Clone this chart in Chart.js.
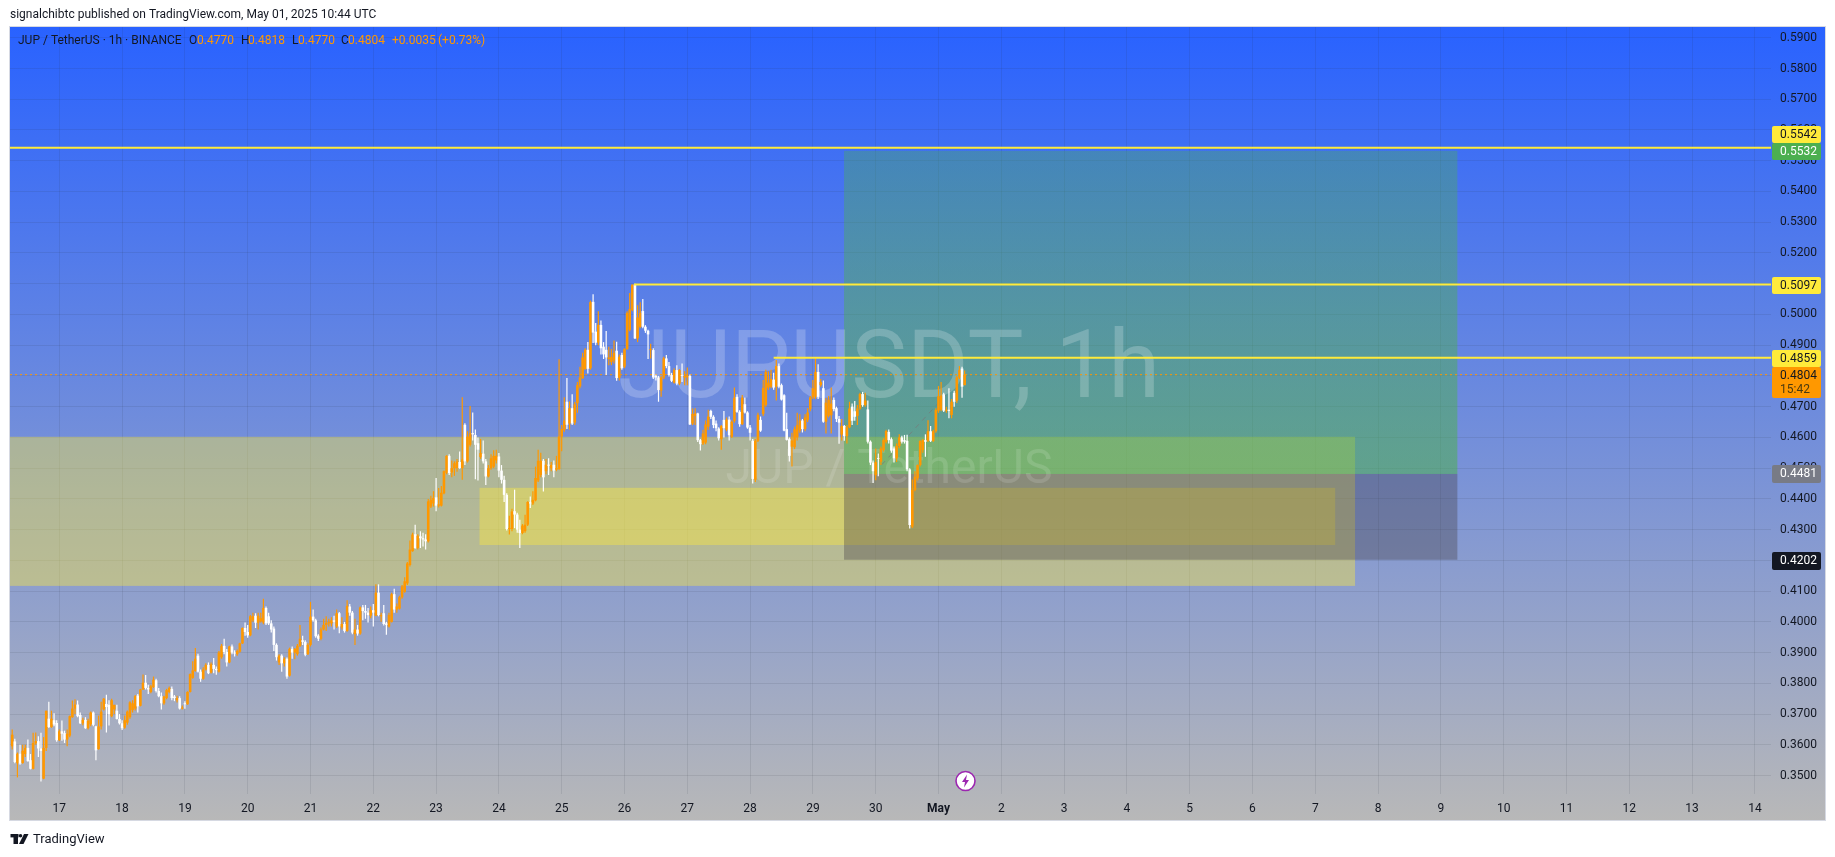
<!DOCTYPE html>
<html>
<head>
<meta charset="utf-8">
<title>JUPUSDT 1h</title>
<script src="https://cdn.jsdelivr.net/npm/chart.js@4"></script>
<style>
  html, body { margin: 0; padding: 0; background: #fff; }
  canvas { display: block; }
</style>
</head>
<body>
<canvas id="chart" width="1835" height="857"></canvas>
<script>
// hourly candles, first one is Apr 16 06:00 (hour -18 from Apr 17 00:00)
const firstHour = -18;

const opens = [
  .3595,.3611,.3540,.3571,.3541,.3570,.3590,.3550,.3522,.3605,.3612,.3588,.3490,.3590,.3685,.3658,.3680,.3671,
  .3615,.3644,.3638,.3617,.3630,.3690,.3718,.3731,.3697,.3670,.3681,.3654,.3667,.3705,.3660,.3586,.3660,.3715,.3733,.3730,.3693,.3715,.3711,.3684,
  .3670,.3656,.3672,.3690,.3713,.3718,.3760,.3727,.3780,.3802,.3785,.3772,.3788,.3810,.3775,.3758,.3735,.3752,.3772,.3782,.3757,.3745,.3752,.3718,
  .3734,.3732,.3772,.3818,.3840,.3890,.3838,.3815,.3845,.3860,.3835,.3860,.3847,.3838,.3885,.3922,.3902,.3868,.3920,.3900,.3895,.3903,.3930,.3980,
  .3967,.3956,.4005,.4020,.3997,.4002,.3998,.4045,.4018,.3995,.3978,.3925,.3868,.3890,.3865,.3880,.3825,.3912,.3900,.3895,.3922,.3940,.3935,.3895,
  .3925,.4017,.4005,.3955,.3945,.3975,.3990,.3995,.3995,.4005,.3985,.4028,.3982,.3993,.3970,.4050,.4030,.3960,.3975,.3962,.4047,.4035,.4030,.4020,
  .4038,.4020,.4095,.4018,.4028,.3995,.3985,.4000,.4090,.4040,.4043,.4080,.4098,.4125,.4185,.4230,.4285,.4240,.4278,.4272,.4268,.4262,.4375,.4385,
  .4405,.4378,.4378,.4418,.4485,.4540,.4486,.4500,.4500,.4520,.4500,.4641,.4522,.4576,.4614,.4608,.4581,.4536,.4547,.4522,.4473,.4500,.4505,.4525,
  .4538,.4492,.4462,.4413,.4302,.4302,.4360,.4349,.4300,.4289,.4295,.4316,.4389,.4385,.4395,.4460,.4478,.4524,.4490,.4511,.4500,.4511,.4495,.4497,
  .4603,.4625,.4716,.4645,.4695,.4648,.4711,.4766,.4793,.4822,.4885,.4825,.5041,.4944,.4908,.4966,.4895,.4885,.4855,.4845,.4850,.4882,.4794,.4868,
  .4830,.4887,.4950,.5015,.5097,.4922,.4960,.5011,.4960,.4947,.4884,.4884,.4800,.4795,.4752,.4795,.4857,.4832,.4803,.4778,.4819,.4775,.4803,.4795,
  .4795,.4800,.4645,.4670,.4678,.4591,.4580,.4583,.4635,.4686,.4667,.4645,.4629,.4594,.4657,.4625,.4658,.4602,.4653,.4732,.4683,.4643,.4708,.4681,
  .4632,.4589,.4462,.4589,.4657,.4676,.4705,.4762,.4765,.4788,.4765,.4832,.4770,.4737,.4627,.4594,.4570,.4568,.4600,.4622,.4655,.4627,.4657,.4692,
  .4730,.4732,.4813,.4770,.4760,.4651,.4670,.4672,.4722,.4695,.4660,.4609,.4637,.4604,.4633,.4700,.4685,.4670,.4694,.4741,.4705,.4691,.4586,.4518,
  .4477,.4532,.4521,.4559,.4586,.4618,.4594,.4564,.4532,.4572,.4600,.4591,.4589,.4496,.4310,.4429,.4467,.4510,.4559,.4591,.4589,.4620,.4589,.4620,
  .4687,.4690,.4740,.4687,.4690,.4673,.4745,.4719,.4795,.4824,.4770
];
const highs = [
  .3650,.3620,.3575,.3600,.3600,.3600,.3617,.3570,.3639,.3640,.3628,.3639,.3625,.3711,.3740,.3711,.3703,.3680,
  .3650,.3679,.3646,.3650,.3695,.3744,.3748,.3744,.3705,.3688,.3690,.3685,.3708,.3708,.3662,.3695,.3740,.3752,.3763,.3745,.3750,.3730,.3730,.3700,
  .3680,.3695,.3712,.3742,.3745,.3762,.3765,.3782,.3829,.3827,.3795,.3795,.3822,.3815,.3785,.3770,.3760,.3782,.3790,.3790,.3762,.3760,.3758,.3728,
  .3742,.3774,.3832,.3872,.3915,.3896,.3845,.3852,.3865,.3868,.3868,.3882,.3855,.3905,.3928,.3945,.3912,.3922,.3926,.3908,.3910,.3932,.3982,.3998,
  .3990,.4022,.4030,.4028,.4030,.4030,.4075,.4050,.4030,.4005,.3985,.3930,.3895,.3895,.3885,.3884,.3916,.3920,.3915,.3928,.3990,.3955,.3940,.3930,
  .4065,.4040,.4010,.3960,.3982,.4010,.4018,.4010,.4015,.4020,.4040,.4032,.4015,.4000,.4070,.4058,.4035,.4010,.3990,.4050,.4055,.4055,.4045,.4050,
  .4058,.4122,.4122,.4030,.4055,.4000,.4030,.4095,.4108,.4060,.4085,.4120,.4145,.4195,.4265,.4290,.4316,.4285,.4295,.4290,.4285,.4400,.4410,.4425,
  .4468,.4435,.4442,.4492,.4542,.4545,.4525,.4522,.4530,.4554,.4731,.4646,.4620,.4702,.4681,.4626,.4600,.4595,.4590,.4530,.4510,.4545,.4558,.4560,
  .4549,.4510,.4475,.4418,.4345,.4368,.4430,.4355,.4332,.4318,.4348,.4392,.4408,.4425,.4505,.4560,.4550,.4530,.4530,.4532,.4520,.4525,.4540,.4854,
  .4640,.4731,.4793,.4717,.4740,.4715,.4780,.4830,.4875,.4890,.4910,.5045,.5066,.4972,.5010,.4980,.4910,.4946,.4895,.4888,.4915,.4911,.4870,.4875,
  .4890,.5010,.5070,.5097,.5100,.5030,.5040,.5050,.4965,.4950,.4905,.4890,.4805,.4800,.4800,.4862,.4868,.4845,.4810,.4825,.4835,.4822,.4840,.4815,
  .4827,.4805,.4694,.4695,.4680,.4595,.4625,.4655,.4690,.4690,.4672,.4655,.4633,.4640,.4686,.4665,.4668,.4655,.4762,.4740,.4688,.4738,.4730,.4685,
  .4640,.4595,.4595,.4680,.4668,.4787,.4820,.4815,.4820,.4810,.4852,.4840,.4775,.4740,.4680,.4600,.4615,.4635,.4680,.4675,.4660,.4675,.4695,.4735,
  .4787,.4857,.4838,.4790,.4785,.4728,.4735,.4762,.4730,.4700,.4670,.4660,.4640,.4640,.4716,.4710,.4718,.4705,.4745,.4748,.4745,.4720,.4590,.4525,
  .4564,.4548,.4570,.4597,.4625,.4626,.4600,.4570,.4580,.4610,.4605,.4608,.4609,.4500,.4463,.4490,.4512,.4590,.4595,.4610,.4656,.4637,.4625,.4695,
  .4767,.4780,.4745,.4700,.4760,.4725,.4752,.4800,.4832,.4830,.4818
];
const lows = [
  .3585,.3540,.3494,.3535,.3538,.3560,.3545,.3520,.3520,.3600,.3560,.3481,.3488,.3580,.3655,.3655,.3660,.3610,
  .3612,.3613,.3606,.3595,.3625,.3688,.3700,.3690,.3668,.3664,.3652,.3650,.3660,.3660,.3550,.3584,.3650,.3712,.3640,.3663,.3690,.3700,.3682,.3666,
  .3648,.3652,.3665,.3685,.3705,.3712,.3705,.3725,.3778,.3780,.3765,.3768,.3785,.3770,.3755,.3715,.3730,.3748,.3768,.3745,.3742,.3738,.3715,.3715,
  .3717,.3730,.3770,.3815,.3838,.3835,.3805,.3812,.3842,.3830,.3832,.3833,.3828,.3835,.3880,.3895,.3855,.3865,.3895,.3887,.3890,.3900,.3928,.3955,
  .3948,.3953,.4000,.3980,.3975,.3998,.3992,.3990,.3990,.3965,.3905,.3874,.3860,.3838,.3855,.3815,.3822,.3880,.3878,.3890,.3918,.3925,.3888,.3892,
  .3920,.4000,.3948,.3938,.3940,.3972,.3970,.3985,.3985,.3975,.3980,.3963,.3975,.3965,.3968,.4020,.3960,.3925,.3955,.3958,.4005,.4010,.3998,.4012,
  .3985,.4018,.4018,.4000,.3988,.3958,.3982,.3998,.4030,.4030,.4040,.4075,.4095,.4120,.4180,.4228,.4238,.4235,.4240,.4245,.4235,.4258,.4370,.4375,
  .4360,.4372,.4375,.4415,.4480,.4478,.4470,.4475,.4488,.4498,.4462,.4510,.4518,.4570,.4590,.4464,.4460,.4530,.4515,.4445,.4470,.4495,.4500,.4515,
  .4470,.4450,.4390,.4297,.4284,.4295,.4305,.4290,.4240,.4285,.4290,.4312,.4370,.4380,.4392,.4455,.4470,.4424,.4480,.4478,.4490,.4470,.4490,.4495,
  .4555,.4618,.4627,.4625,.4640,.4640,.4680,.4760,.4790,.4820,.4808,.4820,.4907,.4900,.4900,.4870,.4855,.4803,.4835,.4835,.4840,.4784,.4785,.4820,
  .4825,.4885,.4945,.5010,.4920,.4910,.4955,.4955,.4940,.4855,.4857,.4790,.4785,.4716,.4732,.4790,.4825,.4798,.4780,.4775,.4770,.4770,.4780,.4770,
  .4770,.4640,.4640,.4640,.4585,.4557,.4575,.4578,.4625,.4660,.4630,.4620,.4590,.4560,.4600,.4620,.4590,.4598,.4648,.4680,.4635,.4640,.4678,.4628,
  .4590,.4450,.4455,.4585,.4618,.4670,.4700,.4755,.4760,.4755,.4720,.4760,.4720,.4620,.4590,.4522,.4505,.4562,.4590,.4615,.4616,.4620,.4650,.4685,
  .4725,.4725,.4725,.4765,.4648,.4613,.4665,.4613,.4685,.4650,.4579,.4590,.4589,.4580,.4630,.4640,.4654,.4640,.4690,.4700,.4700,.4580,.4510,.4452,
  .4461,.4474,.4510,.4554,.4580,.4580,.4550,.4518,.4520,.4565,.4580,.4580,.4490,.4304,.4305,.4425,.4460,.4505,.4550,.4537,.4585,.4585,.4585,.4615,
  .4680,.4685,.4683,.4680,.4662,.4662,.4700,.4712,.4790,.4729,.4770
];
const closes = [
  .3633,.3544,.3571,.3539,.3581,.3590,.3547,.3522,.3606,.3612,.3588,.3580,.3590,.3711,.3658,.3685,.3666,.3615,
  .3644,.3636,.3617,.3636,.3693,.3718,.3731,.3693,.3670,.3681,.3654,.3678,.3705,.3665,.3582,.3660,.3708,.3750,.3723,.3700,.3745,.3730,.3684,.3670,
  .3654,.3680,.3708,.3738,.3735,.3758,.3725,.3780,.3802,.3785,.3780,.3790,.3812,.3775,.3758,.3735,.3757,.3778,.3785,.3752,.3752,.3752,.3718,.3720,
  .3732,.3772,.3830,.3842,.3880,.3838,.3815,.3845,.3860,.3833,.3862,.3847,.3843,.3900,.3922,.3902,.3868,.3920,.3900,.3897,.3905,.3930,.3980,.3967,
  .3956,.4018,.4018,.3997,.4020,.4012,.4045,.3995,.3995,.3975,.3925,.3885,.3890,.3865,.3880,.3822,.3912,.3900,.3912,.3922,.3945,.3935,.3893,.3925,
  .4017,.4005,.3953,.3945,.3975,.3990,.3997,.3999,.4005,.4000,.4028,.3985,.3993,.3970,.4052,.4030,.3965,.3975,.3962,.4047,.4035,.4030,.4022,.4038,
  .4030,.4095,.4022,.4022,.3993,.3990,.4022,.4090,.4040,.4050,.4080,.4115,.4132,.4190,.4235,.4284,.4240,.4280,.4272,.4268,.4262,.4392,.4397,.4403,
  .4378,.4382,.4420,.4490,.4540,.4484,.4500,.4516,.4522,.4500,.4528,.4522,.4603,.4613,.4610,.4576,.4560,.4549,.4522,.4473,.4500,.4532,.4540,.4540,
  .4492,.4462,.4413,.4302,.4305,.4359,.4349,.4300,.4289,.4313,.4316,.4390,.4385,.4397,.4468,.4524,.4524,.4470,.4511,.4508,.4510,.4492,.4500,.4603,
  .4627,.4655,.4641,.4695,.4645,.4708,.4770,.4795,.4860,.4885,.4823,.5040,.4941,.4908,.4966,.4890,.4870,.4860,.4860,.4862,.4875,.4793,.4862,.4825,
  .4887,.5005,.5017,.5097,.4922,.4990,.5005,.4960,.4947,.4935,.4886,.4795,.4795,.4754,.4795,.4857,.4832,.4803,.4784,.4819,.4775,.4819,.4800,.4800,
  .4802,.4642,.4676,.4678,.4591,.4578,.4613,.4642,.4668,.4667,.4640,.4630,.4597,.4637,.4630,.4658,.4607,.4651,.4729,.4683,.4643,.4729,.4681,.4632,
  .4615,.4465,.4589,.4673,.4622,.4761,.4813,.4778,.4790,.4762,.4832,.4765,.4723,.4622,.4592,.4540,.4590,.4627,.4640,.4655,.4627,.4665,.4681,.4730,
  .4760,.4813,.4732,.4780,.4651,.4713,.4722,.4710,.4692,.4660,.4648,.4637,.4604,.4633,.4694,.4654,.4667,.4694,.4741,.4705,.4720,.4586,.4518,.4490,
  .4520,.4530,.4564,.4591,.4621,.4591,.4557,.4532,.4572,.4600,.4586,.4586,.4496,.4315,.4429,.4472,.4510,.4589,.4591,.4586,.4620,.4589,.4620,.4689,
  .4734,.4736,.4687,.4690,.4686,.4716,.4716,.4795,.4819,.4765,.4804
];

const priceTicks = [.35,.36,.37,.38,.39,.40,.41,.42,.43,.44,.45,.46,.47,.48,.49,.50,.51,.52,.53,.54,.55,.56,.57,.58,.59];
const dayLabels = ['17','18','19','20','21','22','23','24','25','26','27','28','29','30','May','2','3','4','5','6','7','8','9','10','11','12','13','14'];

// drawn levels: price, and the hour each line starts from
const levelPrices = [.5542, .5097, .4859];
const levelStarts = [-18.84, 219.6, 273];
const lastPrice = .4804;

// zones in [hour from, hour to, price top, price bottom]
const demandZone = [-18.84, 495.2, .4602, .4117];
const innerZone = [160.6, 487.6, .4436, .4250];
const profitZone = [299.9, 534.3, .5532, .4481];
const stopZone = [299.9, 534.3, .4481, .4202];
const tradeLine = [[314.3, .4511], [340.5, .4754]];

const xMin = -18.84;
const xMax = 654.16;
const yMin = .344;
const yMax = .5935;

const UP = '#ff9800';
const DOWN = '#ffffff';
const FONT = 'Roboto, "Noto Sans", sans-serif';

const hours = opens.map((_, i) => firstHour + i);
const candleColors = opens.map((o, i) => closes[i] >= o ? UP : DOWN);

function zoneRect(chart, zone) {
  const { x, y } = chart.scales;
  const left = x.getPixelForValue(zone[0]);
  const right = x.getPixelForValue(zone[1]);
  const top = y.getPixelForValue(zone[2]);
  const bottom = y.getPixelForValue(zone[3]);
  return { left, top, w: right - left, h: bottom - top };
}

const backdrop = {
  id: 'backdrop',
  beforeDraw(chart) {
    const { ctx } = chart;
    ctx.save();
    const g = ctx.createLinearGradient(0, 27, 0, 820);
    g.addColorStop(0, '#2962ff');
    g.addColorStop(1, '#b8b8b8');
    ctx.fillStyle = g;
    ctx.fillRect(10, 27, 1815, 793);
    ctx.strokeStyle = '#d6d9e2';
    ctx.lineWidth = 1;
    ctx.strokeRect(9.5, 26.5, 1816, 794);
    ctx.restore();
  }
};

const zones = {
  id: 'zones',
  beforeDatasetsDraw(chart) {
    const { ctx } = chart;
    ctx.save();
    let r = zoneRect(chart, demandZone);
    ctx.fillStyle = 'rgba(255,235,59,0.4)';
    ctx.fillRect(r.left, r.top, r.w, r.h);
    r = zoneRect(chart, innerZone);
    ctx.fillStyle = 'rgba(255,235,59,0.4)';
    ctx.fillRect(r.left, r.top, r.w, r.h);
    r = zoneRect(chart, profitZone);
    const green = ctx.createLinearGradient(0, r.top, 0, r.top + r.h);
    green.addColorStop(0, 'rgba(76,175,80,0.35)');
    green.addColorStop(1, 'rgba(76,175,80,0.55)');
    ctx.fillStyle = green;
    ctx.fillRect(r.left, r.top, r.w, r.h);
    r = zoneRect(chart, stopZone);
    ctx.fillStyle = 'rgba(70,65,70,0.36)';
    ctx.fillRect(r.left, r.top, r.w, r.h);

    // symbol watermark
    ctx.textAlign = 'center';
    ctx.textBaseline = 'middle';
    ctx.fillStyle = 'rgba(255,255,255,0.21)';
    ctx.font = '94px ' + FONT;
    ctx.fillText('JUPUSDT, 1h', 889, 373);
    ctx.fillStyle = 'rgba(255,255,255,0.13)';
    ctx.font = '48px ' + FONT;
    ctx.fillText('JUP / TetherUS', 889, 471);
    ctx.restore();
  }
};

function priceTag(ctx, text, top, h, bg, fg) {
  ctx.fillStyle = bg;
  ctx.beginPath();
  ctx.roundRect(1772, top, 49, h, 2);
  ctx.fill();
  ctx.fillStyle = fg;
  ctx.fillText(text, 1780, top + 9);
}

const annotations = {
  id: 'annotations',
  afterDraw(chart) {
    const { ctx } = chart;
    ctx.save();
    ctx.textBaseline = 'middle';
    ctx.textAlign = 'left';

    ctx.font = '12px ' + FONT;
    ctx.fillStyle = '#131722';
    ctx.fillText('signalchibtc published on TradingView.com, May 01, 2025 10:44 UTC', 10, 15);

    // legend row
    ctx.font = '12px ' + FONT;
    ctx.fillStyle = '#131722';
    ctx.fillText('JUP / TetherUS · 1h · BINANCE', 18, 41);
    [['O', 189], ['H', 241], ['L', 292], ['C', 341]].forEach(([t, px]) => ctx.fillText(t, px, 41));
    ctx.fillStyle = UP;
    [['0.4770', 197], ['0.4818', 248], ['0.4770', 298], ['0.4804', 348], ['+0.0035', 392], ['(+0.73%)', 438]]
      .forEach(([t, px]) => ctx.fillText(t, px, 41));

    // price axis tags
    priceTag(ctx, '0.5542', 126, 17, '#ffeb3b', '#131722');
    priceTag(ctx, '0.5532', 143, 17, '#4caf50', '#ffffff');
    priceTag(ctx, '0.5097', 277, 17, '#ffeb3b', '#131722');
    priceTag(ctx, '0.4859', 350, 17, '#ffeb3b', '#131722');
    priceTag(ctx, '0.4804', 367, 31, '#ff9800', '#131722');
    ctx.fillStyle = '#4a3a10';
    ctx.fillText('15:42', 1780, 389.5);
    priceTag(ctx, '0.4481', 465, 18, '#787b86', '#ffffff');
    priceTag(ctx, '0.4202', 552, 18, '#131722', '#ffffff');

    // lightning marker on the time axis
    ctx.beginPath();
    ctx.arc(965.5, 781, 9.5, 0, Math.PI * 2);
    ctx.fillStyle = '#ffffff';
    ctx.fill();
    ctx.lineWidth = 1.6;
    ctx.strokeStyle = '#9c27b0';
    ctx.stroke();
    ctx.fillStyle = '#9c27b0';
    ctx.beginPath();
    [[967, 774.5], [962, 782], [965, 782], [964, 787.5], [969, 780], [966, 780]].forEach(([px, py], i) => {
      if (i === 0) ctx.moveTo(px, py); else ctx.lineTo(px, py);
    });
    ctx.closePath();
    ctx.fill();

    // TradingView footer
    ctx.fillStyle = '#131722';
    ctx.fillRect(10.5, 834, 8, 3.4);
    ctx.fillRect(13.5, 834, 4.5, 10);
    ctx.beginPath();
    ctx.arc(20.5, 835.8, 1.8, 0, Math.PI * 2);
    ctx.fill();
    ctx.beginPath();
    ctx.moveTo(24, 834);
    ctx.lineTo(28.5, 834);
    ctx.lineTo(23.5, 844);
    ctx.lineTo(19, 844);
    ctx.closePath();
    ctx.fill();
    ctx.font = '13px ' + FONT;
    ctx.fillText('TradingView', 33, 839.5);
    ctx.restore();
  }
};

const levelDatasets = levelPrices.map((p, i) => ({
  type: 'line',
  data: [{ x: levelStarts[i], y: p }, { x: xMax, y: p }],
  borderColor: '#ffeb3b',
  borderWidth: 2,
  pointRadius: 0,
  order: 1
}));

new Chart(document.getElementById('chart').getContext('2d'), {
  type: 'bar',
  data: {
    datasets: [
      {
        type: 'line',
        data: [{ x: xMin, y: lastPrice }, { x: xMax, y: lastPrice }],
        borderColor: UP,
        borderWidth: 1,
        borderDash: [2, 3],
        pointRadius: 0,
        order: 5
      },
      {
        type: 'line',
        data: tradeLine.map(p => ({ x: p[0], y: p[1] })),
        borderColor: 'rgba(120,120,120,0.7)',
        borderWidth: 1,
        borderDash: [5, 5],
        pointRadius: 0,
        order: 4
      },
      {
        data: hours.map((h, i) => ({ x: h, y: [lows[i], highs[i]] })),
        backgroundColor: candleColors,
        barThickness: 1.2,
        grouped: false,
        inflateAmount: 0,
        order: 3
      },
      {
        data: hours.map((h, i) => ({ x: h, y: [opens[i], closes[i]] })),
        backgroundColor: candleColors,
        barThickness: 2.6,
        minBarLength: 1,
        grouped: false,
        inflateAmount: 0,
        order: 2
      },
      ...levelDatasets
    ]
  },
  options: {
    responsive: false,
    animation: false,
    events: [],
    layout: { padding: { left: 10, top: 27, right: 10, bottom: 37 } },
    plugins: { legend: { display: false }, tooltip: { enabled: false } },
    scales: {
      x: {
        type: 'linear',
        min: xMin,
        max: xMax,
        offset: false,
        border: { display: false },
        grid: { offset: false, color: 'rgba(42,46,57,0.1)', drawTicks: false },
        afterBuildTicks(scale) {
          scale.ticks = dayLabels.map((_, i) => ({ value: i * 24 }));
        },
        afterFit(scale) { scale.height = 26; },
        ticks: {
          autoSkip: false,
          maxRotation: 0,
          padding: 8,
          color: '#131722',
          font: ctx => ({ family: FONT, size: 12, weight: ctx.index === 14 ? 'bold' : 'normal' }),
          callback: (v, i) => dayLabels[i]
        }
      },
      y: {
        position: 'right',
        min: yMin,
        max: yMax,
        border: { display: false },
        grid: { color: 'rgba(42,46,57,0.1)', drawTicks: false },
        afterBuildTicks(scale) {
          scale.ticks = priceTicks.map(v => ({ value: v }));
        },
        afterFit(scale) { scale.width = 54; },
        ticks: {
          autoSkip: false,
          padding: 9,
          color: '#131722',
          font: { family: FONT, size: 12 },
          callback: v => v.toFixed(4)
        }
      }
    }
  },
  plugins: [backdrop, zones, annotations]
});
</script>
</body>
</html>
